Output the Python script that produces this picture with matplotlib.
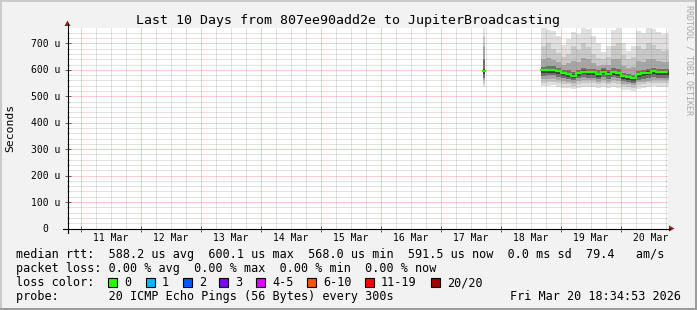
import matplotlib
matplotlib.use('Agg')
import matplotlib.pyplot as plt
import matplotlib.dates as mdates
import matplotlib.transforms as mtransforms
from matplotlib.patches import Rectangle, Polygon
from matplotlib.lines import Line2D
import pandas as pd

plt.rcParams['font.family'] = ['DejaVu Sans Mono']

# ---------------- data ----------------
title = "Last 10 Days from 807ee90add2e to JupiterBroadcasting"
y_label = "Seconds"
watermark = "RRDTOOL / TOBI OETIKER"
end_time = "2026-03-20 18:34:53"
span_days = 10
y_max = 760
y_ticks = [0, 100, 200, 300, 400, 500, 600, 700]
y_tick_labels = ["0", "100 u", "200 u", "300 u", "400 u", "500 u", "600 u", "700 u"]
x_label_times = ["2026-03-11 12:00", "2026-03-12 12:00", "2026-03-13 12:00", "2026-03-14 12:00",
                 "2026-03-15 12:00", "2026-03-16 12:00", "2026-03-17 12:00", "2026-03-18 12:00",
                 "2026-03-19 12:00", "2026-03-20 12:00"]
x_tick_labels = ["11 Mar", "12 Mar", "13 Mar", "14 Mar", "15 Mar", "16 Mar", "17 Mar",
                 "18 Mar", "19 Mar", "20 Mar"]

# main block of measurements (2 h consolidated steps)
main_start = "2026-03-18 16:10"
main_step = "2h"
median = [598, 599, 600, 594, 588, 585, 578, 588, 593, 591, 591, 585, 593, 586, 592, 588,
          576, 572, 568, 583, 587, 590, 595, 591, 591, 591.5]
hi1 = [757, 750, 748, 730, 693, 715, 745, 735, 758, 755, 728, 700, 668, 690, 752, 758,
       700, 672, 690, 748, 740, 758, 755, 745, 735, 740]
hi2 = [690, 700, 680, 665, 650, 660, 690, 675, 700, 685, 660, 645, 640, 650, 690, 700,
       655, 640, 650, 690, 680, 700, 695, 680, 670, 675]
hi3 = [640, 645, 638, 628, 620, 625, 635, 630, 645, 640, 625, 615, 618, 620, 640, 642,
       615, 608, 610, 632, 630, 642, 640, 632, 628, 630]
hi4 = [612, 614, 613, 607, 601, 598, 592, 601, 606, 605, 604, 598, 606, 600, 606, 602,
       590, 586, 582, 596, 600, 604, 609, 605, 604, 605]
hi5 = [603, 604, 605, 599, 593, 590, 583, 593, 598, 596, 596, 590, 598, 591, 597, 593,
       581, 577, 573, 588, 592, 595, 600, 596, 596, 596]
lo5 = [588, 589, 590, 584, 578, 575, 568, 578, 583, 581, 581, 575, 583, 576, 582, 578,
       566, 562, 558, 573, 577, 580, 585, 581, 581, 581]
lo4 = [578, 579, 580, 574, 568, 566, 560, 569, 573, 571, 571, 566, 573, 567, 572, 568,
       557, 553, 550, 563, 567, 570, 575, 571, 571, 571]
lo3 = [565, 566, 567, 562, 557, 555, 550, 558, 562, 560, 560, 555, 562, 556, 561, 557,
       548, 545, 542, 553, 556, 559, 563, 560, 560, 560]
lo2 = [552, 554, 555, 550, 546, 545, 540, 547, 551, 550, 549, 545, 551, 546, 550, 547,
       538, 536, 533, 543, 546, 549, 552, 549, 549, 549]
lo1 = [538, 540, 541, 536, 532, 531, 527, 533, 537, 536, 535, 531, 537, 532, 536, 533,
       525, 523, 521, 529, 532, 535, 538, 535, 535, 535]

# short isolated measurement on 17 Mar
spike_start = "2026-03-17 16:40"
spike_step = "1h"
spike_median = [596]
spike_hi = [[760], [730], [690], [640], [605]]
spike_lo = [[535], [548], [560], [570], [585]]

# legend
rtt_line = "median rtt:  588.2 us avg  600.1 us max  568.0 us min  591.5 us now  0.0 ms sd  79.4   am/s"
loss_line = "packet loss: 0.00 % avg  0.00 % max  0.00 % min  0.00 % now"
color_head = "loss color:"
loss_labels = ["0", "1", "2", "3", "4-5", "6-10", "11-19", "20/20"]
loss_colors = ["#26ff00", "#00b8ff", "#0059ff", "#7e00ff", "#dd00ff", "#ff5500", "#ff0000", "#a10000"]
probe_line = "probe:       20 ICMP Echo Pings (56 Bytes) every 300s"
stamp_text = "Fri Mar 20 18:34:53 2026"

# ---------------- styling / layout ----------------
smoke_colors = ["#e0e0e0", "#c8c8c8", "#a6a6a6", "#6e6e6e", "#3a3a3a"]
median_color = "#26ff00"
W, H, DPI = 697, 310, 100

fig = plt.figure(figsize=(W / DPI, H / DPI), dpi=DPI)
fig.patch.set_facecolor('#f2f2f2')


def FX(x):
    return x / W


def FY(y):
    return 1 - y / H


L, R, T, B = 67.5, 667.5, 27.6, 228.5
ax = fig.add_axes([FX(L), FY(B), (R - L) / W, (B - T) / H])
ax.set_facecolor('white')
for s in ax.spines.values():
    s.set_visible(False)

t_end = pd.Timestamp(end_time)
t_start = t_end - pd.Timedelta(days=span_days)
ax.set_xlim(mdates.date2num(t_start), mdates.date2num(t_end))
ax.set_ylim(0, y_max)


def ext(a):
    return list(a) + [a[-1]]


def edges_for(start, step, n):
    t = pd.date_range(start, periods=n, freq=step)
    return list(mdates.date2num(t)) + [mdates.date2num(t[-1] + pd.Timedelta(step))]


# smoke
his = [hi1, hi2, hi3, hi4, hi5]
los = [lo1, lo2, lo3, lo4, lo5]
e_main = edges_for(main_start, main_step, len(median))
for hi, lo, c in zip(his, los, smoke_colors):
    ax.fill_between(e_main, ext(lo), ext(hi), step='post', color=c, lw=0, zorder=1)
e_sp = edges_for(spike_start, spike_step, len(spike_median))
for hi, lo, c in zip(spike_hi, spike_lo, smoke_colors):
    ax.fill_between(e_sp, ext(lo), ext(hi), step='post', color=c, lw=0, zorder=1)

# grid (semi-transparent dotted, drawn over the smoke like rrdtool)
minor_c, major_c = (0.55, 0.55, 0.55, 0.5), (1.0, 0.2, 0.2, 0.5)
dash = (0, (1, 1))
days = pd.date_range(t_start.ceil('D'), t_end, freq='D')
six = [t for t in pd.date_range(t_start.ceil('6h'), t_end, freq='6h') if t.hour != 0]
gk = dict(lw=0.72, ls=dash, zorder=3, snap=True)
for t in six:
    ax.axvline(mdates.date2num(t), color=minor_c, **gk)
for v in range(20, y_max, 20):
    if v % 100:
        ax.axhline(v, color=minor_c, **gk)
for t in days:
    ax.axvline(mdates.date2num(t), color=major_c, **gk)
for v in y_ticks[1:]:
    ax.axhline(v, color=major_c, **gk)

# median line
ax.step(e_main, ext(median), where='post', color=median_color, lw=1.6, zorder=4)
ax.step(e_sp, ext(spike_median), where='post', color=median_color, lw=1.6, zorder=4)

# ticks (marks only)
ax.set_xticks([mdates.date2num(t) for t in days])
ax.set_xticks([mdates.date2num(t) for t in six], minor=True)
ax.set_yticks(y_ticks)
ax.set_yticks(list(range(20, y_max, 20)), minor=True)
ax.tick_params(which='major', direction='inout', length=4, width=0.72, color='#666666',
               labelbottom=False, labelleft=False)
ax.tick_params(which='minor', direction='inout', length=2, width=0.72, color='#aaaaaa')

# axis lines and arrows
fig.add_artist(Line2D([FX(63), FX(670)], [FY(228.5), FY(228.5)], color='black', lw=0.8))
fig.add_artist(Line2D([FX(67.5), FX(67.5)], [FY(232.5), FY(24)], color='black', lw=0.8))
arrow_c = '#a01818'
fig.add_artist(Polygon([(FX(669), FY(225.5)), (FX(674.5), FY(228.5)), (FX(669), FY(231.5))],
                       closed=True, transform=fig.transFigure, color=arrow_c, lw=0))
fig.add_artist(Polygon([(FX(64.5), FY(26)), (FX(67.5), FY(20.5)), (FX(70.5), FY(26))],
                       closed=True, transform=fig.transFigure, color=arrow_c, lw=0))

# tick labels
yt = mtransforms.blended_transform_factory(fig.transFigure, ax.transData) + \
    mtransforms.ScaledTranslation(0, -3.5 / DPI, fig.dpi_scale_trans)
for v, lab in zip(y_ticks, y_tick_labels):
    rx = 60 if lab.endswith('u') else 48
    ax.text(FX(rx), v, lab, transform=yt, ha='right', va='baseline', fontsize=7, color='black')
xt = mtransforms.blended_transform_factory(ax.transData, fig.transFigure)
for t, lab in zip(x_label_times, x_tick_labels):
    ax.text(mdates.date2num(pd.Timestamp(t)), FY(241), lab, transform=xt, ha='center',
            va='baseline', fontsize=7, color='black')

# titles
fig.text(FX(347.5), FY(24), title, ha='center', va='baseline', fontsize=9.5, color='black')
fig.text(FX(10.5), FY(127.5), y_label, rotation=90, ha='center', va='center', fontsize=8.2,
         color='black')
fig.text(FX(688.5), FY(5), watermark, rotation=270, ha='center', va='top', fontsize=6,
         color='#a8a8a8')

# legend
LF = 8.5
fig.text(FX(16), FY(258), rtt_line, ha='left', va='baseline', fontsize=LF)
fig.text(FX(16), FY(272), loss_line, ha='left', va='baseline', fontsize=LF)
fig.text(FX(16), FY(286), color_head, ha='left', va='baseline', fontsize=LF)
for x, s, c in zip([108, 146, 183, 219, 256, 307, 365, 431], loss_labels, loss_colors):
    fig.add_artist(Rectangle((FX(x), FY(286.5)), 8.5 / W, 8.5 / H, transform=fig.transFigure,
                             facecolor=c, edgecolor='black', lw=0.8))
    fig.text(FX(x + 16), FY(286), s, ha='left', va='baseline', fontsize=LF)
fig.text(FX(16), FY(300), probe_line, ha='left', va='baseline', fontsize=LF)
fig.text(FX(681), FY(300), stamp_text, ha='right', va='baseline', fontsize=LF)

# 3D frame
fig.add_artist(Rectangle((0, 0), FX(2), 1, transform=fig.transFigure, color='#cbcbcb', lw=0))
fig.add_artist(Rectangle((0, FY(2)), 1, 2 / H, transform=fig.transFigure, color='#cbcbcb', lw=0))
fig.add_artist(Rectangle((FX(695), 0), 2 / W, 1, transform=fig.transFigure, color='#9c9c9c', lw=0))
fig.add_artist(Rectangle((0, 0), 1, 2 / H, transform=fig.transFigure, color='#9c9c9c', lw=0))

fig.savefig('out.png', dpi=DPI, facecolor=fig.get_facecolor())
